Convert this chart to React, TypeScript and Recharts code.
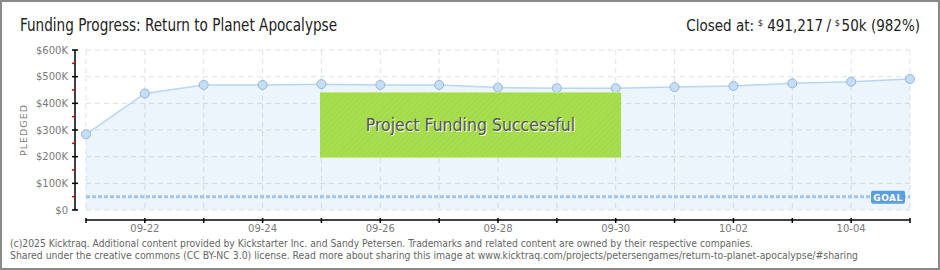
import React from 'react';
import { ComposedChart, LineChart, Area, Line, XAxis, YAxis, CartesianGrid, ReferenceLine } from 'recharts';

const dates = ['09-21', '09-22', '09-23', '09-24', '09-25', '09-26', '09-27', '09-28', '09-29', '09-30', '10-01', '10-02', '10-03', '10-04', '10-05'];
const pledged = [284000, 437000, 469000, 469000, 472000, 469000, 469000, 459000, 457000, 457000, 461000, 465000, 475000, 481000, 491217];
const goal = 50000;
const yMajorTicks = [0, 100000, 200000, 300000, 400000, 500000, 600000];
const yAllTicks = [0, 50000, 100000, 150000, 200000, 250000, 300000, 350000, 400000, 450000, 500000, 550000, 600000];
const yLabels: Record<number, string> = { 0: '$0', 100000: '$100K', 200000: '$200K', 300000: '$300K', 400000: '$400K', 500000: '$500K', 600000: '$600K' };

const data = dates.map((d, i) => ({ date: d, pledged: pledged[i] }));

const W = 940;
const H = 270;
const tickFont = "'DejaVu Sans', sans-serif";
const condFont = "'DejaVu Sans Condensed', 'DejaVu Sans', sans-serif";

const YTick = (props: any) => {
  const { x, y, payload } = props;
  const v = payload.value;
  const major = v % 100000 === 0;
  if (major) {
    return (
      <g>
        <line x1={x - 3} x2={x + 3} y1={y} y2={y} stroke="#000" strokeWidth={1.5} />
        <text x={x - 7} y={y} dy={3.5} textAnchor="end" fontSize={10} fill="#7a7a7a" fontFamily={tickFont}>{yLabels[v]}</text>
      </g>
    );
  }
  return <line x1={x - 3} x2={x} y1={y} y2={y} stroke="#e00000" strokeWidth={1.5} />;
};

const XTick = (props: any) => {
  const { x, y, payload, index } = props;
  return (
    <g>
      <line x1={x} x2={x} y1={y - 2} y2={y + 3} stroke="#000" strokeWidth={1.5} />
      {index % 2 === 1 ? (
        <text x={x} y={y + 12} textAnchor="middle" fontSize={10} fill="#7a7a7a" fontFamily={tickFont}>{payload.value}</text>
      ) : null}
    </g>
  );
};

const GoalLabel = (props: any) => {
  const vb = props.viewBox || {};
  const right = vb.x + vb.width;
  const cy = vb.y;
  return (
    <g>
      <rect x={right - 39} y={cy - 6} width={34} height={13} rx={2} fill="#5a9de0" />
      <text x={right - 22} y={cy + 4} textAnchor="middle" fontSize={9} fontWeight="bold" fill="#fff" fontFamily={tickFont} letterSpacing={0.5}>GOAL</text>
    </g>
  );
};

export default function App() {
  return (
    <div style={{ position: 'absolute', left: 0, top: 0, width: W, height: H, background: '#fff', overflow: 'hidden' }}>
      <div style={{ position: 'absolute', left: 0, top: 0 }}>
        <ComposedChart width={W} height={H} data={data} margin={{ top: 50, right: 30, bottom: 60, left: 86 }}>
          <XAxis dataKey="date" hide />
          <YAxis hide domain={[0, 600000]} ticks={yMajorTicks} />
          <CartesianGrid stroke="#dde1e6" strokeDasharray="5 4" />
          <Area
            type="linear"
            dataKey="pledged"
            stroke="#b7d6f6"
            strokeWidth={1.5}
            fill="#5aa0e8"
            fillOpacity={0.11}
            dot={{ r: 4.5, fill: '#c4def8', fillOpacity: 1, stroke: '#95b5d8', strokeWidth: 1 }}
            activeDot={false}
            isAnimationActive={false}
          />
          <ReferenceLine y={goal} stroke="#a2c5ec" strokeWidth={3} strokeDasharray="4 2" label={<GoalLabel />} />
        </ComposedChart>
      </div>
      <div style={{ position: 'absolute', left: 0, top: 0 }}>
        <LineChart width={W} height={H} data={data} margin={{ top: 50, right: 30, bottom: 60, left: 0 }}>
          <XAxis dataKey="date" hide />
          <YAxis
            width={75}
            domain={[0, 600000]}
            ticks={yAllTicks}
            interval={0}
            tickLine={false}
            tickSize={0}
            tickMargin={0}
            axisLine={{ stroke: '#000', strokeWidth: 1.5 }}
            tick={<YTick />}
          />
          <Line dataKey="pledged" stroke="none" dot={false} activeDot={false} isAnimationActive={false} />
        </LineChart>
      </div>
      <div style={{ position: 'absolute', left: 0, top: 0 }}>
        <LineChart width={W} height={H} data={data} margin={{ top: 50, right: 30, bottom: 20, left: 86 }}>
          <YAxis hide domain={[0, 600000]} />
          <XAxis
            dataKey="date"
            height={30}
            interval={0}
            tickLine={false}
            tickSize={0}
            tickMargin={0}
            axisLine={{ stroke: '#000', strokeWidth: 1.5 }}
            tick={<XTick />}
          />
        </LineChart>
      </div>
      <div
        style={{
          position: 'absolute', left: 320, top: 92, width: 301, height: 66,
          background: 'repeating-linear-gradient(135deg, #a6de4f 0px, #a6de4f 3px, #a0d848 3px, #a0d848 4px)',
          borderTop: '1px solid #c2ea86', borderBottom: '1px solid #c2ea86', boxSizing: 'border-box',
          display: 'flex', alignItems: 'center', justifyContent: 'center',
        }}
      >
        <span style={{ fontFamily: condFont, fontSize: 17.5, color: '#555', textShadow: '1px 1px 0 #fff' }}>
          Project Funding Successful
        </span>
      </div>
      <svg width={W} height={H} style={{ position: 'absolute', left: 0, top: 0, pointerEvents: 'none' }}>
        <text x={20} y={31} fontSize={17} fill="#222" fontFamily={condFont} textLength={317} lengthAdjust="spacingAndGlyphs">
          Funding Progress: Return to Planet Apocalypse
        </text>
        <text x={754} y={31} textAnchor="end" fontSize={15} fill="#222" fontFamily={condFont}>Closed at:</text>
        <text x={763} y={26} textAnchor="end" fontSize={9} fill="#222" fontFamily={condFont}>$</text>
        <text x={823} y={31} textAnchor="end" fontSize={15} fill="#222" fontFamily={condFont}>491,217</text>
        <text x={831} y={31} textAnchor="end" fontSize={15} fill="#222" fontFamily={condFont}>/</text>
        <text x={840} y={26} textAnchor="end" fontSize={9} fill="#222" fontFamily={condFont}>$</text>
        <text x={920} y={31} textAnchor="end" fontSize={15} fill="#222" fontFamily={condFont}>50k (982%)</text>
        <text x={0} y={0} transform="translate(27,130) rotate(-90)" textAnchor="middle" fontSize={9.5} fill="#7a7a7a" fontFamily={tickFont} letterSpacing={1}>
          PLEDGED
        </text>
        <text x={10} y={247} fontSize={10.5} fill="#666" fontFamily={condFont} textLength={743} lengthAdjust="spacingAndGlyphs">
          (c)2025 Kicktraq. Additional content provided by Kickstarter Inc. and Sandy Petersen. Trademarks and related content are owned by their respective companies.
        </text>
        <text x={10} y={259} fontSize={10.5} fill="#666" fontFamily={condFont} textLength={848} lengthAdjust="spacingAndGlyphs">
          Shared under the creative commons (CC BY-NC 3.0) license. Read more about sharing this image at www.kicktraq.com/projects/petersengames/return-to-planet-apocalypse/#sharing
        </text>
      </svg>
      <div style={{ position: 'absolute', left: 0, top: 0, width: W, height: H, border: '2px solid #8a8a8a', boxSizing: 'border-box', pointerEvents: 'none' }} />
    </div>
  );
}
